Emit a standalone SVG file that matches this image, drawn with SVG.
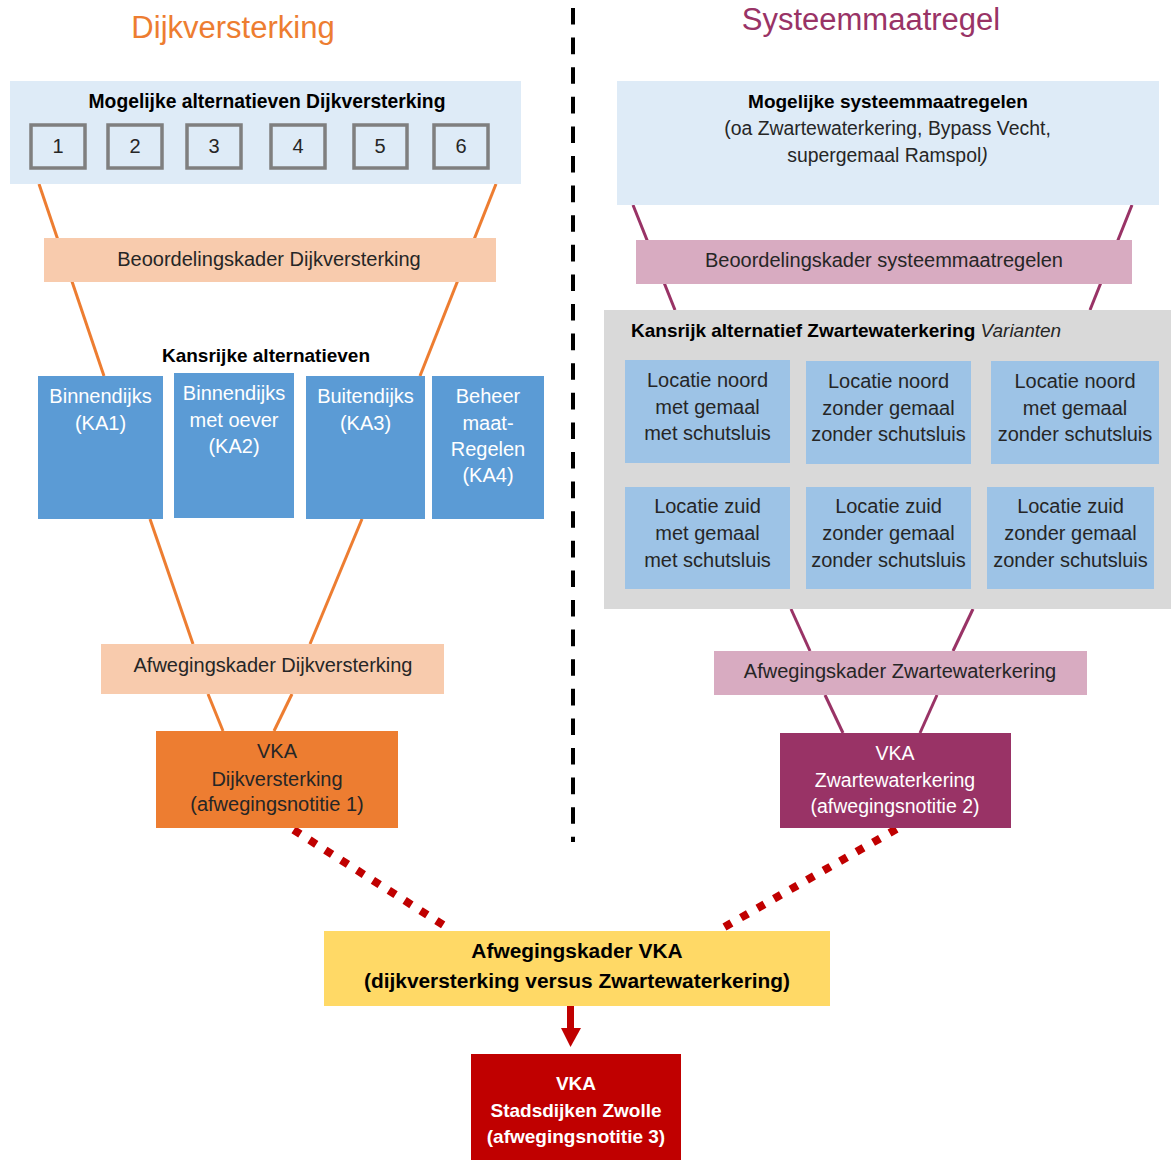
<svg xmlns="http://www.w3.org/2000/svg" width="1171" height="1160" viewBox="0 0 1171 1160">
<style>
text{font-family:"Liberation Sans",Arial,sans-serif;text-anchor:middle;fill:#262626;font-size:20px}
.t{font-size:31px}
.b{font-weight:bold;fill:#000;font-size:19px}
.w{fill:#fff}
.or{stroke:#ED7D31;stroke-width:3;fill:none}
.pl{stroke:#993366;stroke-width:3;fill:none}
.num{fill:none;stroke:#7F7F7F;stroke-width:3.5}
.dot{stroke:#C00000;stroke-width:8;fill:none}
</style>
<rect width="1171" height="1160" fill="#fff"/>
<g id="titles">
<text class="t" x="233" y="38" style="fill:#ED7D31">Dijkversterking</text>
<text class="t" x="871" y="30" style="fill:#993366">Systeemmaatregel</text>
</g>
<g id="connectors">
<line class="or" x1="39" y1="184" x2="104" y2="376"/>
<line class="or" x1="496" y1="184" x2="420" y2="376"/>
<line class="or" x1="150" y1="519" x2="193" y2="644"/>
<line class="or" x1="362" y1="519" x2="310" y2="644"/>
<line class="or" x1="208" y1="694" x2="223" y2="731"/>
<line class="or" x1="292" y1="694" x2="274" y2="731"/>
<line class="pl" x1="633" y1="205" x2="675" y2="310"/>
<line class="pl" x1="1132" y1="205" x2="1090" y2="310"/>
<line class="pl" x1="791" y1="609" x2="810" y2="651"/>
<line class="pl" x1="973" y1="609" x2="953" y2="651"/>
<line class="pl" x1="825" y1="695" x2="843" y2="733"/>
<line class="pl" x1="937" y1="695" x2="920" y2="733"/>
<line x1="573" y1="8" x2="573" y2="842" stroke="#000" stroke-width="4" stroke-dasharray="16.6 13"/>
<line class="dot" x1="293.6" y1="829.9" x2="443.4" y2="925.1" stroke-dasharray="8 10.8"/>
<line class="dot" x1="896.5" y1="829" x2="724.5" y2="927" stroke-dasharray="8 11"/>
<line x1="570.5" y1="1006" x2="570.5" y2="1030" stroke="#C00000" stroke-width="7"/>
<polygon points="561,1028 581,1028 570.5,1047" fill="#C00000"/>
</g>
<g id="mogelijke-dijk">
<rect x="10" y="81" width="511" height="103" fill="#DEEBF7"/>
<text class="b" x="267" y="108" style="font-size:19.3px">Mogelijke alternatieven Dijkversterking</text>
<rect class="num" x="31" y="125" width="54" height="43"/>
<rect class="num" x="108" y="125" width="54" height="43"/>
<rect class="num" x="187" y="125" width="54" height="43"/>
<rect class="num" x="271" y="125" width="54" height="43"/>
<rect class="num" x="354" y="125" width="53" height="43"/>
<rect class="num" x="434" y="125" width="54" height="43"/>
<text x="58" y="153">1</text>
<text x="135" y="153">2</text>
<text x="214" y="153">3</text>
<text x="298" y="153">4</text>
<text x="380" y="153">5</text>
<text x="461" y="153">6</text>
</g>
<g id="beoordeling-dijk">
<rect x="44" y="238" width="452" height="44" fill="#F8CBAD"/>
<text x="269" y="266">Beoordelingskader Dijkversterking</text>
</g>
<g id="kansrijk-dijk">
<text class="b" x="266" y="362">Kansrijke alternatieven</text>
</g>
<g id="ka1">
<rect x="38" y="376" width="125" height="143" fill="#5B9BD5"/>
<text class="w" x="100.5" y="403">Binnendijks</text>
<text class="w" x="100.5" y="430">(KA1)</text>
</g>
<g id="ka2">
<rect x="174" y="373" width="120" height="145" fill="#5B9BD5"/>
<text class="w" x="234" y="400">Binnendijks</text>
<text class="w" x="234" y="427">met oever</text>
<text class="w" x="234" y="453">(KA2)</text>
</g>
<g id="ka3">
<rect x="306" y="376" width="119" height="143" fill="#5B9BD5"/>
<text class="w" x="365.5" y="403">Buitendijks</text>
<text class="w" x="365.5" y="430">(KA3)</text>
</g>
<g id="ka4">
<rect x="432" y="376" width="112" height="143" fill="#5B9BD5"/>
<text class="w" x="488" y="403">Beheer</text>
<text class="w" x="488" y="430">maat-</text>
<text class="w" x="488" y="456">Regelen</text>
<text class="w" x="488" y="482">(KA4)</text>
</g>
<g id="afweging-dijk">
<rect x="101" y="644" width="343" height="50" fill="#F8CBAD"/>
<text x="273" y="672">Afwegingskader Dijkversterking</text>
</g>
<g id="vka-dijk">
<rect x="156" y="731" width="242" height="97" fill="#ED7D31"/>
<text x="277" y="758">VKA</text>
<text x="277" y="786">Dijkversterking</text>
<text x="277" y="811">(afwegingsnotitie 1)</text>
</g>
<g id="mogelijke-systeem">
<rect x="617" y="81" width="542" height="124" fill="#DEEBF7"/>
<text class="b" x="888" y="108">Mogelijke systeemmaatregelen</text>
<text x="887.5" y="135" style="font-size:19.4px">(oa Zwartewaterkering, Bypass Vecht,</text>
<text x="887.5" y="162" style="font-size:19.4px">supergemaal Ramspol<tspan font-style="italic">)</tspan></text>
</g>
<g id="beoordeling-systeem">
<rect x="636" y="240" width="496" height="44" fill="#D8ABC1"/>
<text x="884" y="267">Beoordelingskader systeemmaatregelen</text>
</g>
<g id="kansrijk-zwarte">
<rect x="604" y="310" width="567" height="299" fill="#D9D9D9"/>
<text class="b" x="631" y="337" style="text-anchor:start">Kansrijk alternatief Zwartewaterkering <tspan font-weight="normal" font-style="italic" fill="#262626">Varianten</tspan></text>
</g>
<g id="var1">
<rect x="625" y="360" width="165" height="103" fill="#9DC3E6"/>
<text x="707.5" y="387">Locatie noord</text>
<text x="707.5" y="414">met gemaal</text>
<text x="707.5" y="440">met schutsluis</text>
</g>
<g id="var2">
<rect x="806" y="361" width="165" height="103" fill="#9DC3E6"/>
<text x="888.5" y="388">Locatie noord</text>
<text x="888.5" y="415">zonder gemaal</text>
<text x="888.5" y="441">zonder schutsluis</text>
</g>
<g id="var3">
<rect x="991" y="361" width="168" height="103" fill="#9DC3E6"/>
<text x="1075" y="388">Locatie noord</text>
<text x="1075" y="415">met gemaal</text>
<text x="1075" y="441">zonder schutsluis</text>
</g>
<g id="var4">
<rect x="625" y="487" width="165" height="102" fill="#9DC3E6"/>
<text x="707.5" y="513">Locatie zuid</text>
<text x="707.5" y="540">met gemaal</text>
<text x="707.5" y="567">met schutsluis</text>
</g>
<g id="var5">
<rect x="806" y="487" width="165" height="102" fill="#9DC3E6"/>
<text x="888.5" y="513">Locatie zuid</text>
<text x="888.5" y="540">zonder gemaal</text>
<text x="888.5" y="567">zonder schutsluis</text>
</g>
<g id="var6">
<rect x="987" y="487" width="167" height="102" fill="#9DC3E6"/>
<text x="1070.5" y="513">Locatie zuid</text>
<text x="1070.5" y="540">zonder gemaal</text>
<text x="1070.5" y="567">zonder schutsluis</text>
</g>
<g id="afweging-zwarte">
<rect x="714" y="651" width="373" height="44" fill="#D8ABC1"/>
<text x="900" y="678">Afwegingskader Zwartewaterkering</text>
</g>
<g id="vka-zwarte">
<rect x="780" y="733" width="231" height="95" fill="#993366"/>
<text class="w" x="895" y="760" style="font-size:19.5px">VKA</text>
<text class="w" x="895" y="787" style="font-size:19.5px">Zwartewaterkering</text>
<text class="w" x="895" y="813" style="font-size:19.5px">(afwegingsnotitie 2)</text>
</g>
<g id="afweging-vka">
<rect x="324" y="931" width="506" height="75" fill="#FFD966"/>
<text class="b" x="577" y="958" style="font-size:20.9px">Afwegingskader VKA</text>
<text class="b" x="577" y="988" style="font-size:20.9px">(dijkversterking versus Zwartewaterkering)</text>
</g>
<g id="vka-zwolle">
<rect x="471" y="1054" width="210" height="106" fill="#C00000"/>
<text class="b w" x="576" y="1090" style="fill:#fff">VKA</text>
<text class="b w" x="576" y="1117" style="fill:#fff">Stadsdijken Zwolle</text>
<text class="b w" x="576" y="1143" style="fill:#fff">(afwegingsnotitie 3)</text>
</g>
</svg>
